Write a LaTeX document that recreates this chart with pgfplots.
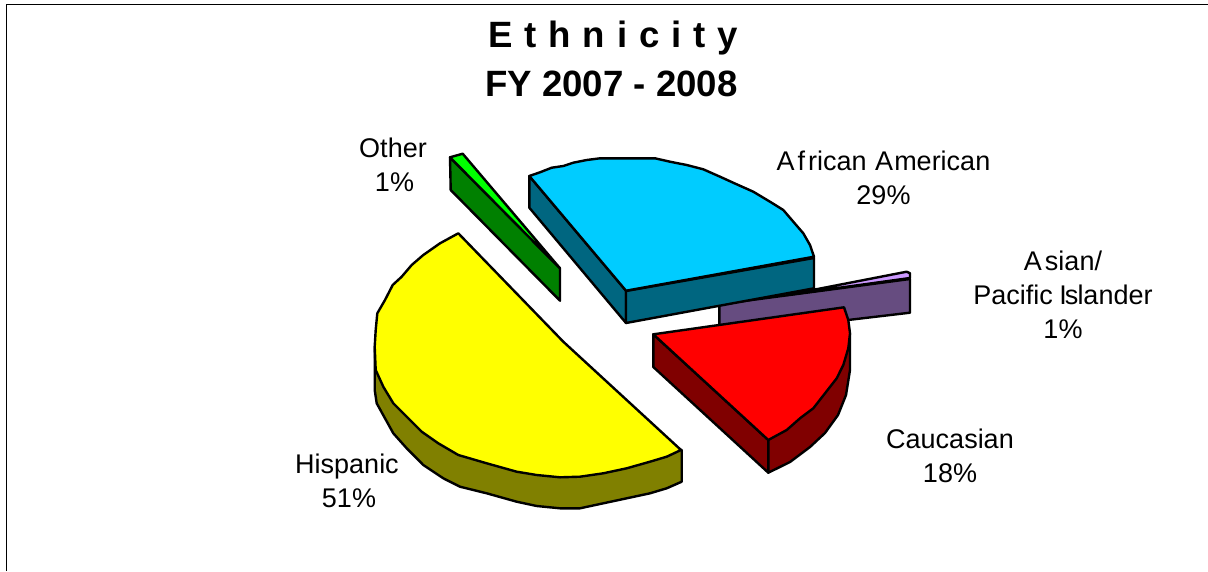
\documentclass[border=0pt]{standalone}
\usepackage{pgfplots}
\pgfplotsset{compat=1.18}
\usepackage{fontspec}
\setmainfont{Liberation Sans}
\definecolor{cy}{RGB}{255,255,0}\definecolor{cyd}{RGB}{128,128,0}
\definecolor{cb}{RGB}{0,204,255}\definecolor{cbd}{RGB}{0,102,128}
\definecolor{cr}{RGB}{255,0,0}\definecolor{crd}{RGB}{128,0,0}
\definecolor{cg}{RGB}{0,255,0}\definecolor{cgd}{RGB}{0,128,0}
\definecolor{cp}{RGB}{204,153,255}\definecolor{cpd}{RGB}{102,76,128}
\newcommand{\lab}[3]{\node[align=center,font=\fontsize{27}{34}\selectfont,anchor=center] at (axis cs:#1,#2) {#3};}
\pgfplotsset{slice/.style={draw=black,line width=2.4pt,line join=round,fill=#1}}
\begin{document}
\begin{tikzpicture}
\useasboundingbox (0,0) rectangle (1208pt,571pt);
\begin{axis}[scale only axis,width=1208pt,height=571pt,xmin=0,xmax=1208,ymin=0,ymax=571,y dir=reverse,hide axis,clip=true,at={(0,0)},anchor=south west]
% frame
\addplot[black,line width=1.8pt,no marks] coordinates {(6.5,571)(6.5,4.5)(1208,4.5)};
% Purple
\addplot[slice=cpd] coordinates {(719.3,304.3)(910,279)(910,312.7)(848,320)(719.3,340)} -- cycle;
\addplot[slice=cp] coordinates {(786.7,295)(906.7,271.7)(910,273.3)(910,278)} -- cycle;
% Green
\addplot[slice=cgd] coordinates {(450,157.3)(560,268.3)(560,300.7)(450.7,190)} -- cycle;
\addplot[slice=cg] coordinates {(450,157.3)(462.7,153.7)(560,268.3)} -- cycle;
% Blue
\addplot[slice=cbd] coordinates {(529.3,176)(626,290.7)(626,323)(529.3,207.7)} -- cycle;
\addplot[slice=cbd] coordinates {(626,291)(814,258)(814,288.3)(626,323)} -- cycle;
\addplot[slice=cb] coordinates {(529.3,176)(540,172.3)(551.7,167.7)(563.3,166)(573.3,162.7)(586.7,160)(600,158.3)(620,158.3)(636.7,158.3)(655,158.3)(670,161.7)(686.7,165)(703.3,169.3)(720,176.7)(736.7,184.3)(753.3,191.7)(770,201.7)(783.3,210)(793.3,221.7)(803.3,233.3)(810,245)(814,256.7)(626,290.7)} -- cycle;
% Red
\addplot[slice=crd] coordinates {(653.3,334.3)(768.3,440)(768.3,472.7)(653.3,367)} -- cycle;
\addplot[slice=crd] coordinates {(768.3,440)(850,333.3)(850,370)(846,395)(838,415)(825,433)(810,447)(790,462)(768.3,472.7)} -- cycle;
\addplot[slice=cr] coordinates {(653.3,334.3)(844,307.3)(848.3,320)(850,333.3)(848.3,348.3)(843.3,365)(836.7,378.3)(825,393.3)(813.3,408.3)(800,418.3)(786.7,430)(768.3,440)} -- cycle;
% Yellow
\addplot[slice=cyd] coordinates {(374.7,346.7)(374.7,390)(376.7,403.3)(385,418.3)(393.3,433.3)(406.7,448.3)(423.3,465)(443.3,478.3)(460,486.7)(486.7,493.3)(516.7,501.7)(536.7,506)(560,508.3)(580,508.3)(603.3,503.3)(626.7,498.3)(650,493.3)(666.7,488.3)(681.7,481.7)(681.7,450)} -- cycle;
\addplot[slice=cy] coordinates {(458.3,233.3)(440,243.3)(423.3,255)(411.7,265)(401.7,276.7)(392.7,285)(385,300)(377.3,313.3)(375.7,330)(374.7,346.7)(375.7,370)(383.3,386.7)(393.3,403.3)(406.7,416.7)(421.7,431.7)(438.3,443.3)(458.3,455)(486.7,463.3)(516.7,471.7)(536.7,475)(560,477.3)(580,476.7)(603.3,473.3)(626.7,468.3)(650,461.7)(666.7,456.7)(681,450)(563.3,341.7)} -- cycle;
% Title
\node[font=\fontsize{36.6}{40}\selectfont\bfseries] at (axis cs:613,38) {\spaceskip=11.8pt E t h n i c i t y};
\node[font=\fontsize{36.6}{40}\selectfont\bfseries] at (axis cs:611.5,84) {FY 2007 - 2008};
% Labels
\lab{883.5}{178}{A\kern3pt f\kern3pt rican\kern1pt\ A\kern1pt merican\\29\%}
\lab{1063}{295}{A\kern3pt sian/\\Pacific\kern-1pt\ I\kern-2pt s\kern-1pt lander\\1\%}
\lab{950}{456}{Caucasian\\18\%}
\lab{347}{481}{Hispanic\\\hspace{4pt}51\%}
\lab{393}{165}{Other\\\hspace{3pt}1\%}
\end{axis}
\end{tikzpicture}
\end{document}
